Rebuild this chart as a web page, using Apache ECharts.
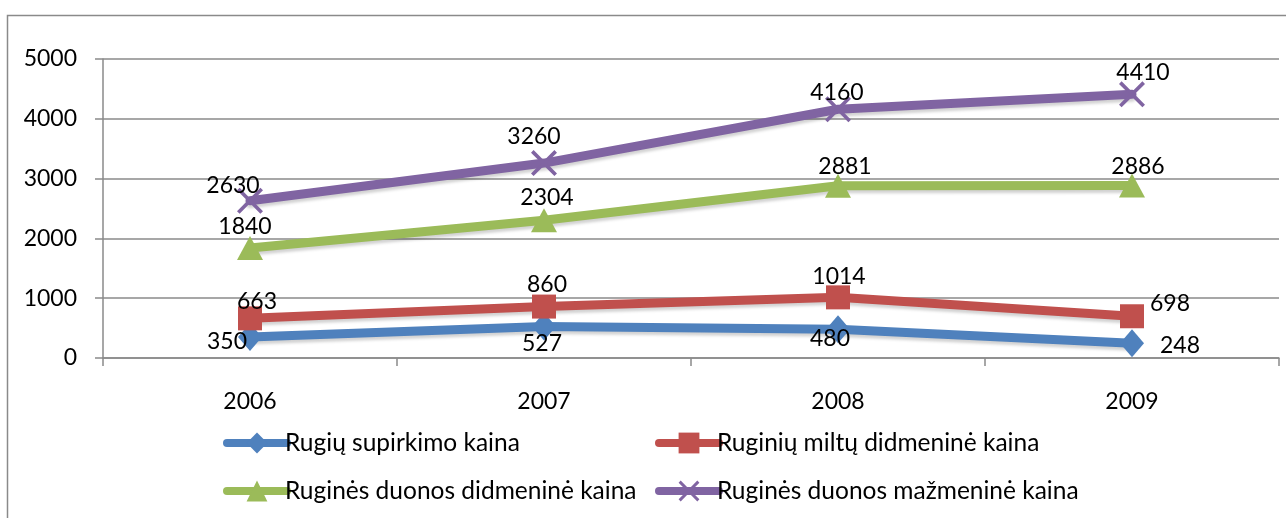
<!DOCTYPE html>
<html>
<head>
<meta charset="utf-8">
<script src="https://cdn.jsdelivr.net/npm/echarts@6/dist/echarts.min.js"></script>
<style>
html,body{margin:0;padding:0;background:#fff;}
#chart{width:1286px;height:518px;}
</style>
</head>
<body>
<div id="chart"></div>
<script>
// ---- data ----
const categories = ['2006', '2007', '2008', '2009'];
const seriesNames = [
  'Rugių supirkimo kaina',
  'Ruginių miltų didmeninė kaina',
  'Ruginės duonos didmeninė kaina',
  'Ruginės duonos mažmeninė kaina'
];
const rugiuSupirkimo = [350, 527, 480, 248];
const miltuDidmenine = [663, 860, 1014, 698];
const duonosDidmenine = [1840, 2304, 2881, 2886];
const duonosMazmenine = [2630, 3260, 4160, 4410];
const yMin = 0, yMax = 5000, yStep = 1000;

// ---- styles ----
const FONT = 'Lato';
const colors = ['#4F81BD', '#C0504D', '#9BBB59', '#8064A2'];
const symbols = [
  'diamond',
  'rect',
  'triangle',
  'path://M0,10 L10,0 L50,40 L90,0 L100,10 L60,50 L100,90 L90,100 L50,60 L10,100 L0,90 L40,50 Z'
];
const symbolSizes = [[24, 28], 24, [26, 24], 26];
const labelOffsets = [
  [[-23, 5], [-2, 17], [-8, 9], [48, 2]],
  [[7, -17], [3, -22], [1, -21], [38, -13]],
  [[-5, -21], [3, -23], [7, -19], [6, -19]],
  [[-17, -15], [-10, -26], [-1, -17], [11, -22]]
];
const allValues = [rugiuSupirkimo, miltuDidmenine, duonosDidmenine, duonosMazmenine];
const gray = '#8a8a8a';

function makeSeries(i) {
  return {
    name: seriesNames[i],
    type: 'line',
    data: allValues[i].map((v, j) => ({
      value: v,
      label: { offset: labelOffsets[i][j] }
    })),
    symbol: symbols[i],
    symbolSize: symbolSizes[i],
    showAllSymbol: true,
    lineStyle: {
      color: colors[i], width: 9, cap: 'round', join: 'round',
      shadowColor: 'rgba(0,0,0,0.18)', shadowBlur: 3, shadowOffsetY: 3
    },
    itemStyle: { color: colors[i], opacity: 1 },
    emphasis: { disabled: true },
    label: {
      show: true,
      position: 'inside',
      color: '#000',
      fontFamily: FONT,
      fontSize: 23,
      formatter: p => String(p.value)
    },
    z: 2 + i
  };
}

function makeLegend(i, left, top) {
  return {
    data: [seriesNames[i]],
    left: left,
    top: top,
    orient: 'horizontal',
    padding: 0,
    itemWidth: 60,
    itemHeight: 26,
    itemGap: 0,
    selectedMode: false,
    lineStyle: { width: 8, cap: 'round', shadowBlur: 0, shadowOffsetY: 0, shadowColor: 'transparent' },
    textStyle: { fontFamily: FONT, fontSize: 24.5, color: '#000', lineHeight: 28, padding: [0, 0, 0, -7] }
  };
}

const chart = echarts.init(document.getElementById('chart'), null, { renderer: 'canvas' });
chart.setOption({
  animation: false,
  backgroundColor: '#fff',
  graphic: [{
    type: 'rect',
    shape: { x: 7.5, y: 15.5, width: 1400, height: 700 },
    style: { fill: 'none', stroke: gray, lineWidth: 1.5 },
    silent: true
  }],
  grid: { left: 103, right: 7, top: 59, bottom: 160, containLabel: false },
  legend: [
    makeLegend(0, 223, 429),
    makeLegend(1, 655, 429),
    makeLegend(2, 223, 477),
    makeLegend(3, 655, 477)
  ],
  xAxis: {
    type: 'category',
    data: categories,
    boundaryGap: true,
    axisLine: { lineStyle: { color: gray, width: 1.5 } },
    axisTick: { show: true, length: 8, lineStyle: { color: gray, width: 1.5 } },
    axisLabel: { margin: 32, color: '#000', fontFamily: FONT, fontSize: 23 },
    splitLine: { show: false }
  },
  yAxis: {
    type: 'value',
    min: yMin, max: yMax, interval: yStep,
    axisLine: { show: true, lineStyle: { color: gray, width: 1.5 } },
    axisTick: { show: true, length: 8, lineStyle: { color: gray, width: 1.5 } },
    axisLabel: { margin: 26, color: '#000', fontFamily: FONT, fontSize: 23, formatter: v => String(v) },
    splitLine: { show: true, lineStyle: { color: gray, width: 1.5 } }
  },
  series: [0, 1, 2, 3].map(makeSeries)
});
</script>
</body>
</html>
